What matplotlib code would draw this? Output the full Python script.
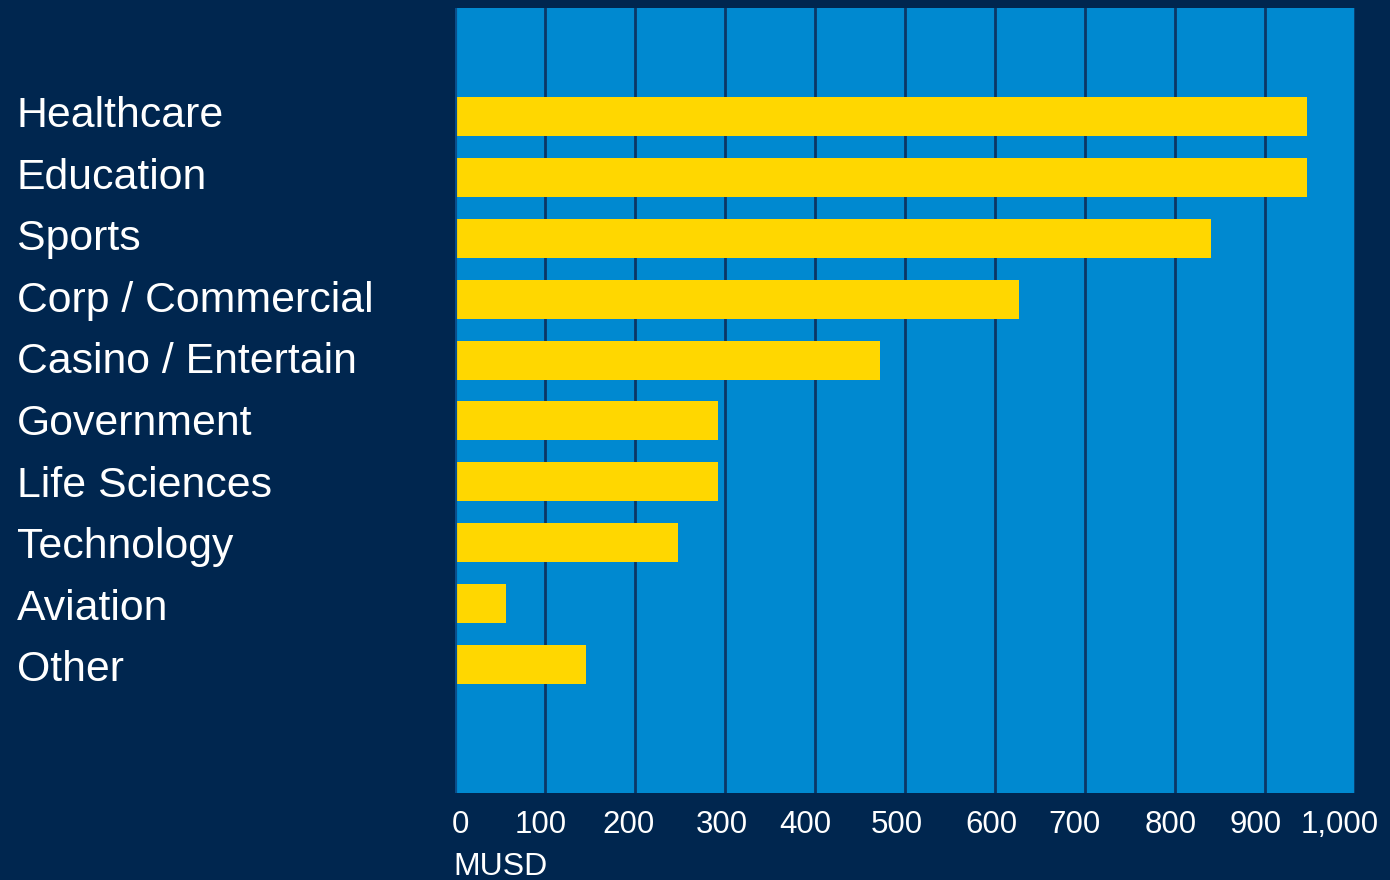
import matplotlib.pyplot as plt
from matplotlib.transforms import ScaledTranslation

plt.rcParams['font.family'] = ['Liberation Sans', 'DejaVu Sans']

# dados
categorias = ["Healthcare", "Education", "Sports", "Corp / Commercial",
              "Casino / Entertain", "Government", "Life Sciences",
              "Technology", "Aviation", "Other"]
valores = [947, 947, 840, 627, 472, 292, 292, 248, 57, 146]
ticks_x = [0, 100, 200, 300, 400, 500, 600, 700, 800, 900, 1000]
ticks_label = ["0", "100", "200", "300", "400", "500", "600", "700", "800", "900", "1,000"]

fundo = "#00264F"
azul = "#0089D0"
amarelo = "#FFD700"
grade = "#0B3766"

W, H = 1390, 880
fig = plt.figure(figsize=(13.9, 8.8), dpi=100, facecolor=fundo)
ax = fig.add_axes([455 / W, 1 - 793 / H, 900 / W, 785 / H])
ax.set_facecolor(azul)

pos = list(range(len(categorias)))
ax.barh(pos, valores, height=0.64, color=amarelo, zorder=3)

ax.set_xlim(0, 1000)
ax.set_ylim(11.12, -1.79)

# linhas verticais da grade
ax.set_xticks(ticks_x)
ax.set_xticklabels(ticks_label, fontsize=22.5, color="white")
ax.tick_params(axis='x', length=0, pad=12)
ax.grid(axis='x', color=grade, linewidth=2, zorder=1)
ax.set_yticks([])
for s in ax.spines.values():
    s.set_visible(False)
ax.axvline(0, color="#0A4E8A", linewidth=3, zorder=4)

# pequenos deslocamentos (px) dos rótulos do eixo x, como no original
desloc = [5, -4, -7, -3, -10, -8, -4, -10, -4, -9, -15]
for lab, dx in zip(ax.get_xticklabels(), desloc):
    lab.set_transform(lab.get_transform() + ScaledTranslation(dx / 100, 0, fig.dpi_scale_trans))

# rótulos das categorias à esquerda (linha de base em pixels)
for i, cat in enumerate(categorias):
    y_base = 127 + i * 61.6
    fig.text(17 / W, 1 - y_base / H, cat, ha='left', va='baseline',
             fontsize=30.8, color="white")

fig.text(453 / W, 1 - 875 / H, "MUSD", ha='left', va='baseline',
         fontsize=23, color="white")

fig.savefig("out.png", dpi=100, facecolor=fundo)
